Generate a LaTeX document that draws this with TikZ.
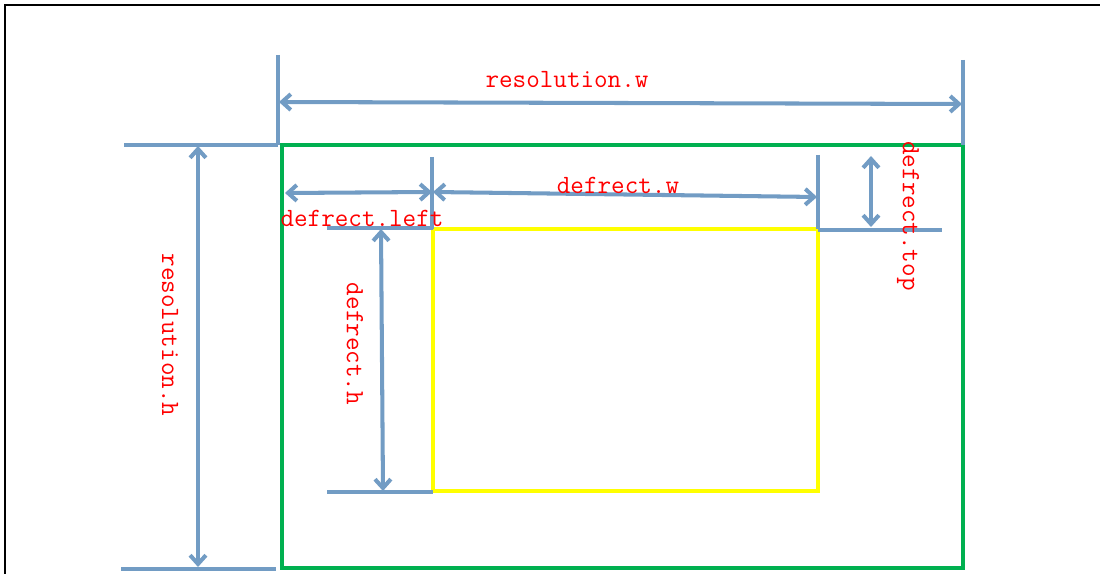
\documentclass[tikz,border=0pt]{standalone}
\usetikzlibrary{arrows.meta}
\definecolor{cus-blue}{RGB}{114,156,196}
\definecolor{cus-green}{RGB}{0,176,80}
\definecolor{cus-yellow}{RGB}{255,255,0}
\definecolor{cus-red}{RGB}{255,0,0}

\begin{document}
\begin{tikzpicture}[x=0.02cm, y=-0.02cm,
	dim/.style={cus-blue, line width=2.3pt},
	dimarrow/.style={dim, {Straight Barb[length=5pt,width=9pt]}-{Straight Barb[length=5pt,width=9pt]}},
	lbl/.style={text=cus-red, font=\ttfamily\fontsize{15}{17}\selectfont, inner sep=0pt}]
\useasboundingbox (0,0) rectangle (1100,574);
% frame
\draw [line width=1pt] (5,574) -- (5,5) -- (1100,5);
% resolution and defrect
\draw [cus-green, line width=2.4pt] (282,145) rectangle (963,568);
\draw [cus-yellow, line width=2.4pt] (433,229) rectangle (818,491);
% extension lines
\coordinate (wl-top) at (278,55);   \coordinate (wl-bot) at (278,145);
\coordinate (wr-top) at (963,60);   \coordinate (wr-bot) at (963,145);
\coordinate (ht-l) at (124,145);    \coordinate (ht-r) at (278,145);
\coordinate (hb-l) at (121,569);    \coordinate (hb-r) at (276,569);
\coordinate (dl-top) at (432,157);  \coordinate (dl-bot) at (432,229);
\coordinate (dr-top) at (818,155);  \coordinate (dr-bot) at (818,229);
\coordinate (dt-l) at (818,230);    \coordinate (dt-r) at (942,230);
\coordinate (dht-l) at (327,228);   \coordinate (dht-r) at (433,228);
\coordinate (dhb-l) at (327,492);   \coordinate (dhb-r) at (433,492);
\foreach \a/\b in {wl-top/wl-bot, wr-top/wr-bot, ht-l/ht-r, hb-l/hb-r,
	dl-top/dl-bot, dr-top/dr-bot, dt-l/dt-r, dht-l/dht-r, dhb-l/dhb-r}
	\draw [dim] (\a) -- (\b);
% arrow ends
\coordinate (rw-a) at (279,102);  \coordinate (rw-b) at (962,104);
\coordinate (rh-a) at (198,146);  \coordinate (rh-b) at (198,567);
\coordinate (dlf-a) at (285,193); \coordinate (dlf-b) at (432,192);
\coordinate (dw-a) at (433,192);  \coordinate (dw-b) at (817,197);
\coordinate (dtp-a) at (871,156); \coordinate (dtp-b) at (871,227);
\coordinate (dh-a) at (381,229);  \coordinate (dh-b) at (383,491);
\foreach \a/\b in {rw-a/rw-b, rh-a/rh-b, dlf-a/dlf-b, dw-a/dw-b, dtp-a/dtp-b, dh-a/dh-b}
	\draw [dimarrow] (\a) -- (\b);
% labels
\node [lbl] (lbl-rw) at (567,80) {resolution.w};
\node [lbl, rotate=-90] (lbl-rh) at (170,335) {resolution.h};
\node [lbl] (lbl-dl) at (362,218) {defrect.left};
\node [lbl] (lbl-dw) at (618,185) {defrect.w};
\node [lbl, rotate=-90] (lbl-dt) at (908,216) {defrect.top};
\node [lbl, rotate=-90] (lbl-dh) at (355,344) {defrect.h};
\end{tikzpicture}
\end{document}
